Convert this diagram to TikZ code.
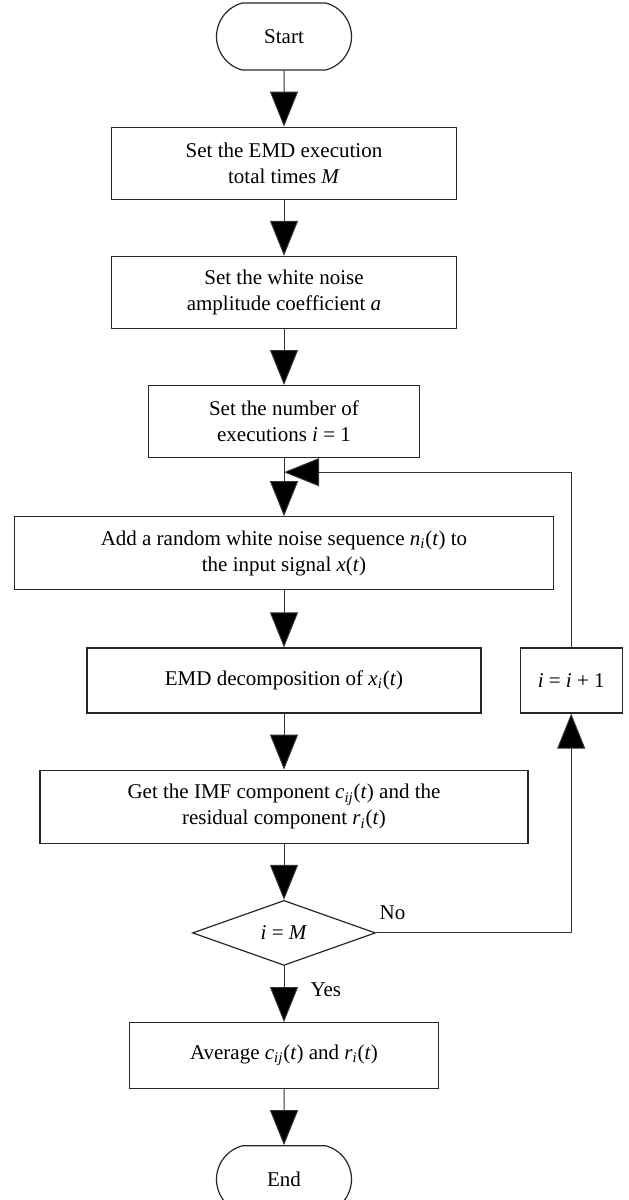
\documentclass[tikz,border=0pt]{standalone}
\usepackage{fontspec}
\setmainfont{Liberation Serif}
\usepackage{tikz}
\usetikzlibrary{arrows.meta, positioning, shapes.geometric, shapes.misc}

\newcommand{\vsub}[2]{\textit{#1}\textsubscript{\textit{#2}}}

\begin{document}
\begin{tikzpicture}[
    node distance=28pt and 19pt,
    every node/.style={font=\fontsize{10.5}{13}\selectfont},
    terminal/.style={rounded rectangle, rounded rectangle arc length=150, draw=black!85, line width=0.6pt, minimum width=67.5pt, minimum height=33.5pt, inner sep=0pt},
    process/.style={rectangle, draw=black!85, line width=0.6pt, minimum height=36pt, align=center, inner sep=0pt},
    decision/.style={diamond, draw=black!85, line width=0.6pt, minimum width=91.5pt, minimum height=32.5pt, inner sep=0pt},
    arrow/.style={-{Triangle[length=17.5pt, width=14pt, fill=black]}, line width=0.5pt, draw=black!80},
    branch/.style={inner sep=0pt}
]
\useasboundingbox (0,0) rectangle (314pt,-600pt);

% Main column
\node[terminal] (start) at (142pt,-18.25pt) {Start};
\node[process, minimum width=172.5pt, below=of start] (settimes) {Set the EMD execution\\total times \textit{M}};
\node[process, minimum width=172.5pt, below=of settimes] (setamp) {Set the white noise\\amplitude coefficient \textit{a}};
\node[process, minimum width=135.5pt, below=of setamp] (setcount) {Set the number of\\executions \textit{i} = 1};
\node[process, minimum width=269.5pt, minimum height=36.5pt, below=29pt of setcount] (addnoise) {Add a random white noise sequence \vsub{n}{i}(\textit{t}) to\\the input signal \textit{x}(\textit{t})};
\node[process, minimum width=197pt, minimum height=32.5pt, below=28.5pt of addnoise] (decomp) {EMD decomposition of \vsub{x}{i}(\textit{t})};
\node[process, minimum width=244pt, minimum height=36.5pt, below=of decomp] (getimf) {Get the IMF component \vsub{c}{ij}(\textit{t}) and the\\residual component \vsub{r}{i}(\textit{t})};
\node[decision, below=of getimf] (check) {\textit{i} = \textit{M}};
\node[process, minimum width=154.5pt, minimum height=33pt, below=of check] (average) {Average \vsub{c}{ij}(\textit{t}) and \vsub{r}{i}(\textit{t})};
\node[terminal, below=of average] (end) {End};

% Counter box on the right
\node[process, minimum width=51pt, minimum height=32.5pt, right=of decomp] (incr) {\textit{i} = \textit{i} + 1};
\coordinate[below=7pt of setcount] (rejoin);

% Arrows - main flow
\draw[arrow] (start) -- (settimes);
\draw[arrow] (settimes) -- (setamp);
\draw[arrow] (setamp) -- (setcount);
\draw[arrow] (setcount) -- (addnoise);
\draw[arrow] (addnoise) -- (decomp);
\draw[arrow] (decomp) -- (getimf);
\draw[arrow] (getimf) -- (check);
\draw[arrow] (check) -- node[right=13pt, yshift=2pt, branch] {Yes} (average);
\draw[arrow] (average) -- (end);

% Loop back
\draw[arrow] (check.east) node[above right=6.5pt and 1.5pt, branch] {No} -| (incr.south);
\draw[arrow] (incr.north) |- (rejoin);

\end{tikzpicture}
\end{document}
